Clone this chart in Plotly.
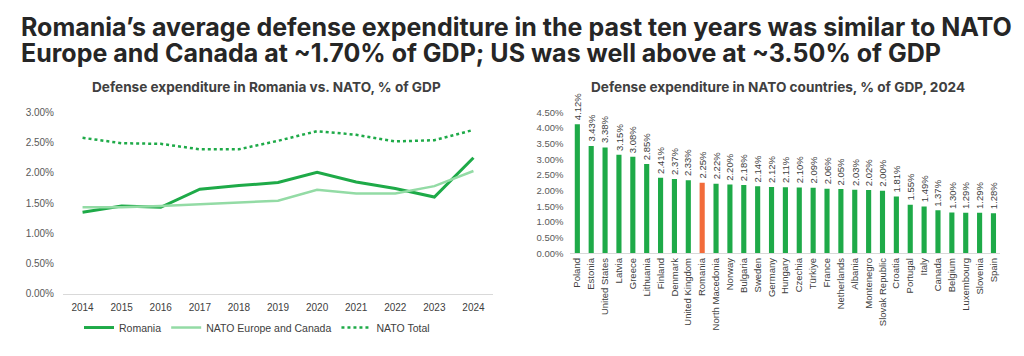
import plotly.graph_objects as go

years = ["2014", "2015", "2016", "2017", "2018", "2019", "2020", "2021", "2022", "2023", "2024"]
romania = [1.35, 1.45, 1.43, 1.73, 1.79, 1.84, 2.01, 1.85, 1.74, 1.60, 2.25]
nato_eu_canada = [1.43, 1.43, 1.45, 1.48, 1.51, 1.54, 1.72, 1.66, 1.66, 1.78, 2.03]
nato_total = [2.58, 2.49, 2.48, 2.39, 2.39, 2.53, 2.69, 2.63, 2.52, 2.54, 2.71]

countries = ["Poland", "Estonia", "United States", "Latvia", "Greece", "Lithuania", "Finland",
             "Denmark", "United Kingdom", "Romania", "North Macedonia", "Norway", "Bulgaria",
             "Sweden", "Germany", "Hungary", "Czechia", "Türkiye", "France", "Netherlands",
             "Albania", "Montenegro", "Slovak Republic", "Croatia", "Portugal", "Italy",
             "Canada", "Belgium", "Luxembourg", "Slovenia", "Spain"]
spend_2024 = [4.12, 3.43, 3.38, 3.15, 3.08, 2.85, 2.41, 2.37, 2.33, 2.25, 2.22, 2.20, 2.18,
              2.14, 2.12, 2.11, 2.10, 2.09, 2.06, 2.05, 2.03, 2.02, 2.00, 1.81, 1.55, 1.49,
              1.37, 1.30, 1.29, 1.29, 1.28]

left_ticks = [0, 0.5, 1.0, 1.5, 2.0, 2.5, 3.0]
right_ticks = [0, 0.5, 1.0, 1.5, 2.0, 2.5, 3.0, 3.5, 4.0, 4.5]

GREEN = "#1eaa48"
LIGHT = "#93dba5"
ORANGE = "#f26b3a"
TXT = "#404040"
FONT = "Liberation Sans, Arial, sans-serif"
INTER = "Inter, sans-serif"

# page body has an 8px default margin; figure placed so it lands at page coords
OX, OY = 8, 8
W, H = 1008, 340
def px(x):
    return (x - OX) / W
def py(y):
    return (H - (y - OY)) / H

fig = go.Figure()

fig.add_trace(go.Scatter(x=years, y=romania, mode="lines", name="Romania",
                         line=dict(color=GREEN, width=3), xaxis="x", yaxis="y"))
fig.add_trace(go.Scatter(x=years, y=nato_eu_canada, mode="lines", name="NATO Europe and Canada",
                         line=dict(color=LIGHT, width=2.5), xaxis="x", yaxis="y"))
fig.add_trace(go.Scatter(x=years, y=nato_total, mode="lines", name="NATO Total",
                         line=dict(color=GREEN, width=2.5, dash="dot"), xaxis="x", yaxis="y"))

bar_colors = [ORANGE if c == "Romania" else GREEN for c in countries]
fig.add_trace(go.Bar(x=countries, y=spend_2024, marker=dict(color=bar_colors, line=dict(width=0)),
                     showlegend=False, xaxis="x2", yaxis="y2"))

annotations = [
    dict(text="<b>Romania’s average defense expenditure in the past ten years was similar to NATO</b>",
         x=px(18.5), y=py(21), xref="paper", yref="paper", xanchor="left", yanchor="middle",
         showarrow=False, font=dict(family=INTER, size=25, color="#262626")),
    dict(text="<b>Europe and Canada at ~1.70% of GDP; US was well above at ~3.50% of GDP</b>",
         x=px(18.5), y=py(48), xref="paper", yref="paper", xanchor="left", yanchor="middle",
         showarrow=False, font=dict(family=INTER, size=25, color="#262626")),
    dict(text="<b>Defense expenditure in Romania vs. NATO, % of GDP</b>",
         x=px(266), y=py(84), xref="paper", yref="paper", xanchor="center", yanchor="middle",
         showarrow=False, font=dict(family=INTER, size=13.6, color="#404040")),
    dict(text="<b>Defense expenditure in NATO countries, % of GDP, 2024</b>",
         x=px(778), y=py(84), xref="paper", yref="paper", xanchor="center", yanchor="middle",
         showarrow=False, font=dict(family=INTER, size=13.6, color="#404040")),
]
for c, v in zip(countries, spend_2024):
    annotations.append(dict(text=f"{v:.2f}%", x=c, y=v, xref="x2", yref="y2",
                            xanchor="center", yanchor="bottom", yshift=2, textangle=-90,
                            showarrow=False, font=dict(family=FONT, size=9.5, color=TXT)))

fig.update_layout(
    width=W, height=H,
    margin=dict(l=0, r=0, t=0, b=0),
    paper_bgcolor="white", plot_bgcolor="white",
    font=dict(family=FONT, color=TXT, size=10),
    bargap=0.63,
    xaxis=dict(domain=[px(63), px(493)], type="category", range=[-0.5, 10.5],
               showgrid=False, showline=True, linecolor="#d9d9d9", linewidth=1,
               ticks="", ticklabelstandoff=4, tickfont=dict(size=10, color="#404040")),
    yaxis=dict(domain=[py(298), py(110)], range=[0, 3.0], tickvals=left_ticks,
               ticktext=[f"{v:.2f}%" for v in left_ticks], showgrid=False, zeroline=False,
               showline=False, tickfont=dict(size=10, color="#595959"), ticklabelstandoff=8,
               anchor="x"),
    xaxis2=dict(domain=[px(570.4), px(1000.4)], type="category", range=[-0.5, 30.5],
                showgrid=False, showline=True, linecolor="#d9d9d9", linewidth=1,
                ticks="", tickangle=-90, tickfont=dict(size=9.5, color="#404040"),
                anchor="y2"),
    yaxis2=dict(domain=[py(256), py(110)], range=[0, 4.5], tickvals=right_ticks,
                ticktext=[f"{v:.2f}%" for v in right_ticks], showgrid=False, zeroline=False,
                showline=False, tickfont=dict(size=9.5, color="#595959"), ticklabelstandoff=6,
                anchor="x2"),
    legend=dict(orientation="h", x=px(257), xanchor="center", y=py(333), yanchor="middle",
                font=dict(size=10.5, color="#404040"), itemwidth=30, bgcolor="rgba(0,0,0,0)"),
    annotations=annotations,
)

fig.write_html("out.html")
